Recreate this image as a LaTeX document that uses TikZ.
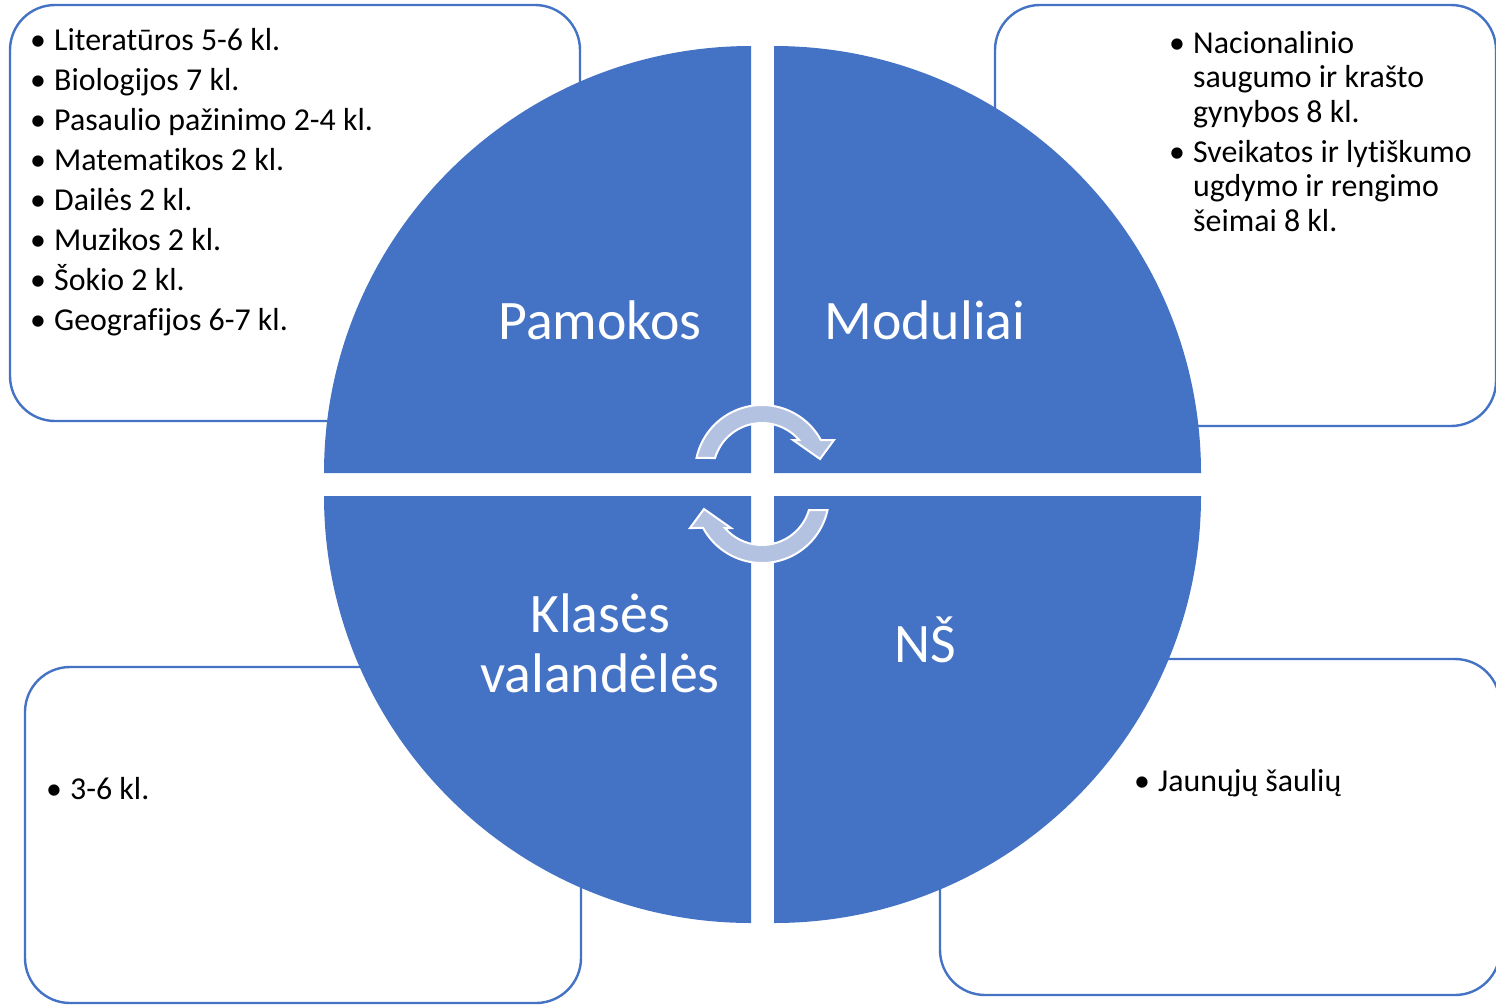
\documentclass[tikz,border=0pt]{standalone}
\usepackage{fontspec}
\setmainfont[Ligatures=NoCommon,RawFeature={-liga;-clig;-calt;-dlig}]{Carlito}
\definecolor{acc}{HTML}{4472C4}
\definecolor{arrowfill}{HTML}{B4C2E1}
\begin{document}
\begin{tikzpicture}[x=1bp,y=-1bp,
  box/.style={draw=acc, line width=2.4bp, fill=white, rounded corners=45bp},
  quad/.style={fill=acc},
  item/.style={anchor=base west, font=\fontsize{32}{34}\selectfont, inner sep=0pt},
  bul/.style={anchor=base, font=\fontsize{32}{34}\selectfont, inner sep=0pt},
  qlabel/.style={anchor=base, text=white, font=\fontsize{56}{60}\selectfont, inner sep=0pt},
  circarrow/.style={fill=arrowfill, draw=white, line width=2bp, line join=miter}]

\fill[white] (0,0) rectangle (1496,1005);
\useasboundingbox (0,0) rectangle (1496,1005);

% boxes
\draw[box] (10,5) rectangle (580,421);
\draw[box] (995,5) rectangle (1496,426);
\draw[box] (25,667) rectangle (581,1003);
\draw[box] (940,659) rectangle (1500,995);

% quadrants
\fill[quad] (751,473) -- (324,473) arc[start angle=180,end angle=270,radius=427] -- cycle;
\fill[quad] (774,473) -- (774,46) arc[start angle=270,end angle=360,radius=427] -- cycle;
\fill[quad] (774,496) -- (1201,496) arc[start angle=0,end angle=90,radius=427] -- cycle;
\fill[quad] (751,496) -- (751,923) arc[start angle=90,end angle=180,radius=427] -- cycle;

% quadrant labels
\node[qlabel] (pam) at (600,339) {Pamokos};
\node[qlabel] (mod) at (925,339) {Moduliai};
\node[qlabel] (kl1) at (600,632) {Klasės};
\node[qlabel] (kl2) at (600,692) {valandėlės};
\node[qlabel] (ns) at (925,662) {NŠ};

% top-left list
\foreach \t [count=\i from 0] in {Literatūros 5-6 kl., Biologijos 7 kl., Pasaulio pažinimo 2-4 kl., Matematikos 2 kl., Dailės 2 kl., Muzikos 2 kl., Šokio 2 kl., Geografijos 6-7 kl.} {
  \node[bul] (tlb\i) at (38,50+40*\i) {•};
  \node[item] (tl\i) at (54,50+40*\i) {\t};
}

% top-right list
\node[bul] (trb1) at (1177,53) {•};
\node[item] (tr1) at (1193,53) {Nacionalinio};
\node[item] (tr2) at (1193,87.5) {saugumo ir krašto};
\node[item] (tr3) at (1193,122) {gynybos 8 kl.};
\node[bul] (trb2) at (1177,162) {•};
\node[item] (tr4) at (1193,162) {Sveikatos ir lytiškumo};
\node[item] (tr5) at (1193,196.5) {ugdymo ir rengimo};
\node[item] (tr6) at (1193,231) {šeimai 8 kl.};

% bottom-left list
\node[bul] (blb) at (54,799) {•};
\node[item] (bl) at (70,799) {3-6 kl.};

% bottom-right list
\node[bul] (brb) at (1142,791) {•};
\node[item] (br) at (1158,791) {Jaunųjų šaulių};

% circular arrows
\begin{scope}[shift={(762,472)}, yscale=-1]
\draw[circarrow] (167.9:67) arc[start angle=167.9,end angle=28.5,radius=67]
  -- (72,32) -- (58,13) -- (31,32) -- (40.8:49)
  arc[start angle=40.8,end angle=163.4,radius=49] -- cycle;
\end{scope}
\begin{scope}[shift={(762,496)}, yscale=-1, rotate=180]
\draw[circarrow] (167.9:67) arc[start angle=167.9,end angle=28.5,radius=67]
  -- (72,32) -- (58,13) -- (31,32) -- (40.8:49)
  arc[start angle=40.8,end angle=163.4,radius=49] -- cycle;
\end{scope}
\end{tikzpicture}
\end{document}
